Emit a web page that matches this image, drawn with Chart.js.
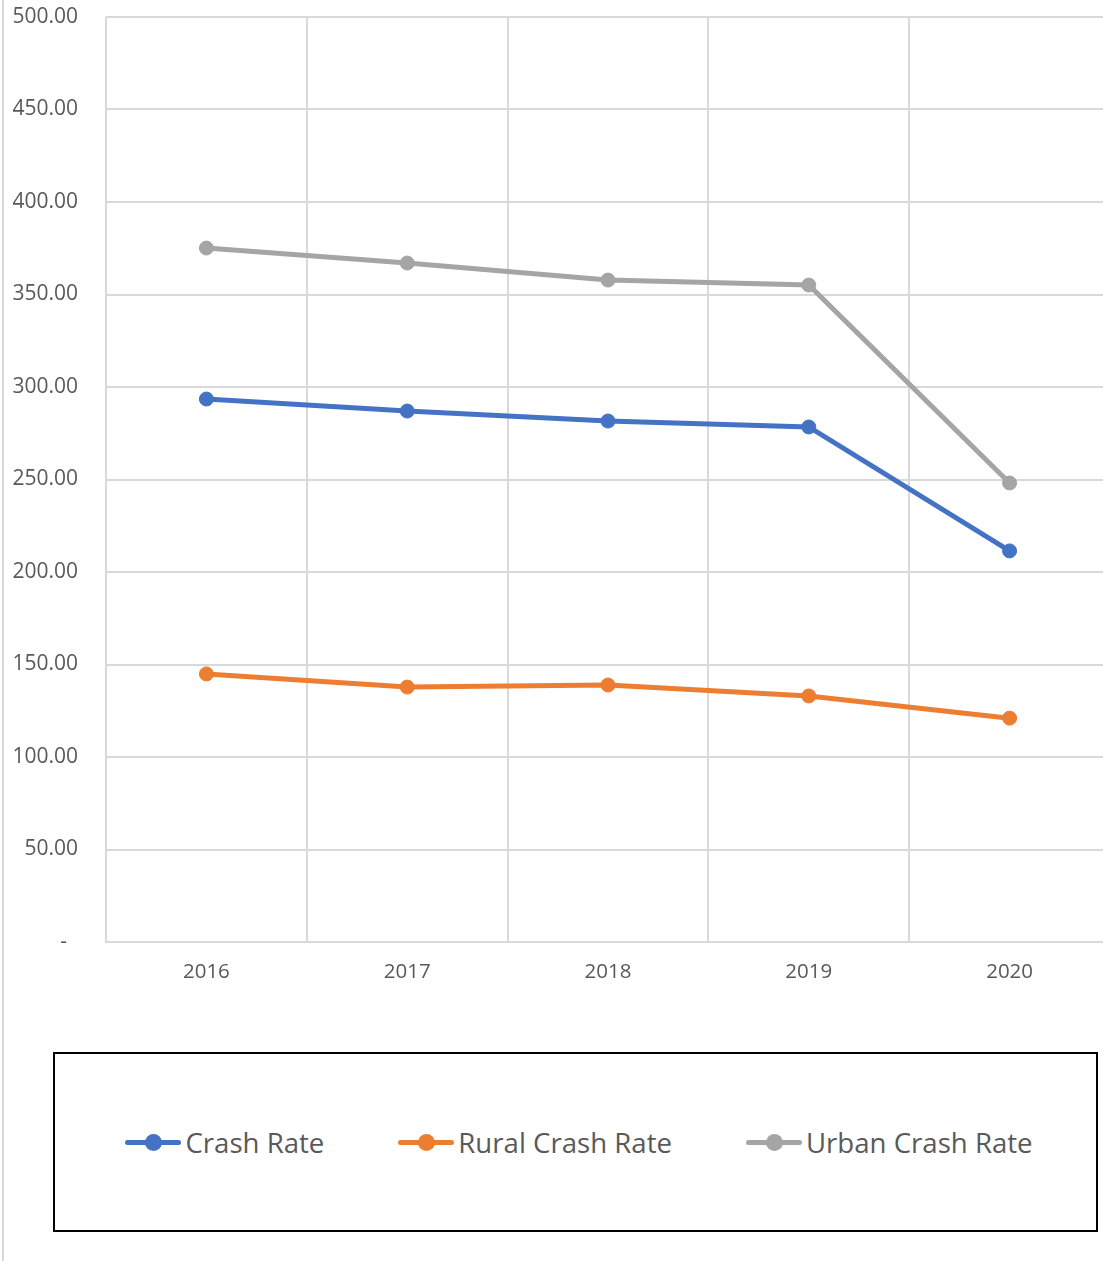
<!DOCTYPE html>
<html>
<head>
<meta charset="utf-8">
<script src="https://cdn.jsdelivr.net/npm/chart.js@4/dist/chart.umd.min.js"></script>
<style>
    html, body { margin: 0; padding: 0; background: #fff; overflow: hidden; }
    body { width: 1103px; height: 1261px; position: relative; }
    .edge { position: absolute; left: 2px; top: 0; width: 2px; height: 1261px; background: #d9d9d9; z-index: 2; }
    #wrap { position: absolute; left: 0; top: 0; width: 1110px; height: 1000px; }
    .legend-box {
        position: absolute; left: 53px; top: 1052px; width: 1045px; height: 180px;
        box-sizing: border-box; border: 2px solid #000; padding-left: 7px;
        display: flex; align-items: center; justify-content: center;
        font-family: "Open Sans", sans-serif; font-size: 27.6px; color: #595959;
    }
    .item { display: flex; align-items: center; margin: 0 37px; }
    .mark { position: relative; width: 56px; height: 17px; margin-right: 4px; }
    .mark .ln { position: absolute; left: 0; top: 6px; width: 56px; height: 5px; border-radius: 2.5px; }
    .mark .dt { position: absolute; left: 20px; top: 0; width: 17px; height: 17px; border-radius: 50%; }
</style>
</head>
<body>
<div class="edge"></div>
<div id="wrap"><canvas id="c" width="1110" height="1000"></canvas></div>
<div class="legend-box" id="legend"></div>

<script>
    // data
    var years = ['2016', '2017', '2018', '2019', '2020'];
    var crashRate = [293.5, 287.0, 281.6, 278.4, 211.4];
    var ruralCrashRate = [144.9, 137.8, 138.9, 133.0, 121.0];
    var urbanCrashRate = [375.1, 367.0, 357.8, 355.1, 248.1];
    var seriesNames = ['Crash Rate', 'Rural Crash Rate', 'Urban Crash Rate'];
    var seriesColors = ['#4472C4', '#ED7D31', '#A5A5A5'];

    var seriesValues = [crashRate, ruralCrashRate, urbanCrashRate];
    var datasets = seriesValues.map(function (vals, i) {
        return {
            label: seriesNames[i],
            data: vals,
            borderColor: seriesColors[i],
            backgroundColor: seriesColors[i],
            borderWidth: 5,
            pointRadius: 7,
            pointBorderWidth: 1,
            pointBackgroundColor: seriesColors[i],
            pointHoverRadius: 7,
            tension: 0,
            fill: false
        };
    });

    new Chart(document.getElementById('c').getContext('2d'), {
        type: 'line',
        data: { labels: years, datasets: datasets },
        options: {
            responsive: false,
            animation: false,
            events: [],
            // plot runs a little past the right edge of the picture, as in the original
            layout: { autoPadding: false, padding: { top: 17, right: 0, bottom: 0, left: 0 } },
            plugins: { legend: { display: false }, tooltip: { enabled: false } },
            scales: {
                x: {
                    offset: true,
                    grid: { offset: true, color: '#d9d9d9', lineWidth: 2, drawTicks: false },
                    border: { color: '#d9d9d9', width: 2 },
                    ticks: { color: '#595959', font: { family: 'Open Sans', size: 20.5 }, padding: 18 },
                    afterFit: function (s) { s.height = 58; }
                },
                y: {
                    min: 0,
                    max: 500,
                    ticks: {
                        stepSize: 50,
                        color: '#595959',
                        font: { family: 'Open Sans', size: 21 },
                        padding: 28,
                        callback: function (v) { return v === 0 ? '-  ' : v.toFixed(2); }
                    },
                    grid: { color: '#d9d9d9', lineWidth: 2, drawTicks: false },
                    border: { display: false },
                    afterFit: function (s) {
                        s.width = 106;
                        // tick padding would otherwise push the plot top down
                        s.paddingTop = 0;
                        s.paddingBottom = 0;
                    }
                }
            }
        }
    });

    // legend drawn as html so the box matches the original
    var legend = document.getElementById('legend');
    seriesNames.forEach(function (name, i) {
        var item = document.createElement('div');
        item.className = 'item';
        item.innerHTML = '<span class="mark"><span class="ln" style="background:' + seriesColors[i] +
            '"></span><span class="dt" style="background:' + seriesColors[i] + '"></span></span><span>' + name + '</span>';
        legend.appendChild(item);
    });
</script>
</body>
</html>
